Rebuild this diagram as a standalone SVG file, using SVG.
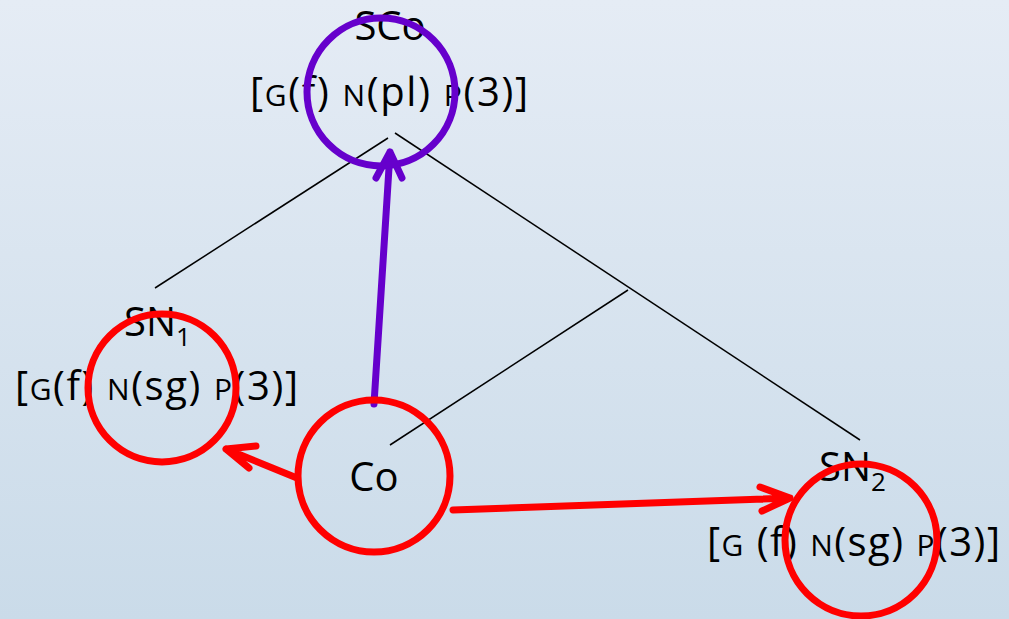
<svg xmlns="http://www.w3.org/2000/svg" width="1009" height="619" viewBox="0 0 1009 619">
<defs>
<linearGradient id="bg" x1="0" y1="0" x2="0" y2="1">
<stop offset="0" stop-color="#e5ecf5"/>
<stop offset="1" stop-color="#cadbe9"/>
</linearGradient>
<style>
.t{font-family:"Open Sans","Noto Sans",sans-serif;font-size:40px;fill:#000}
.sc{font-size:30px}
.sub{font-size:26px}
.tree{stroke:#000;stroke-width:1.5;fill:none}
.red{stroke:#ff0000;stroke-width:7;fill:none;stroke-linecap:round;stroke-linejoin:round}
.pur{stroke:#6600cc;stroke-width:7;fill:none;stroke-linecap:round;stroke-linejoin:round}
</style>
</defs>
<rect width="1009" height="619" fill="url(#bg)"/>
<g id="connectors">
<path class="tree" d="M388 138 L155 288"/>
<path class="tree" d="M395 133 L860 440"/>
<path class="tree" d="M628 290 L390 445"/>
<path class="pur" d="M374 404 L390 152 M376 178 L390 152 L402 178"/>
<path class="red" d="M297 478 L226 449 M249 468 L226 449 L256 446"/>
<path class="red" d="M453 510 L790 498 M760 487 L790 498 L762 511"/>
</g>
<g id="SCo">
<text class="t" x="390" y="40" text-anchor="middle">SCo</text>
<text class="t" x="250" y="106" textLength="278" lengthAdjust="spacing">[<tspan class="sc">G</tspan>(f) <tspan class="sc">N</tspan>(pl) <tspan class="sc">P</tspan>(3)]</text>
<circle class="pur" cx="381" cy="92" r="74"/>
</g>
<g id="SN1">
<text class="t" x="124" y="336">SN<tspan class="sub" dy="10">1</tspan></text>
<text class="t" x="15" y="400" textLength="283" lengthAdjust="spacing">[<tspan class="sc">G</tspan>(f) <tspan class="sc">N</tspan>(sg) <tspan class="sc">P</tspan>(3)]</text>
<circle class="red" cx="162" cy="388" r="74"/>
</g>
<g id="Co">
<circle class="red" cx="374" cy="476" r="76"/>
<text class="t" x="374" y="491" text-anchor="middle">Co</text>
</g>
<g id="SN2">
<text class="t" x="819" y="481">SN<tspan class="sub" dy="10">2</tspan></text>
<text class="t" x="707" y="556" textLength="293" lengthAdjust="spacing">[<tspan class="sc">G</tspan> (f) <tspan class="sc">N</tspan>(sg) <tspan class="sc">P</tspan>(3)]</text>
<circle class="red" cx="861" cy="540" r="76"/>
</g>
</svg>
